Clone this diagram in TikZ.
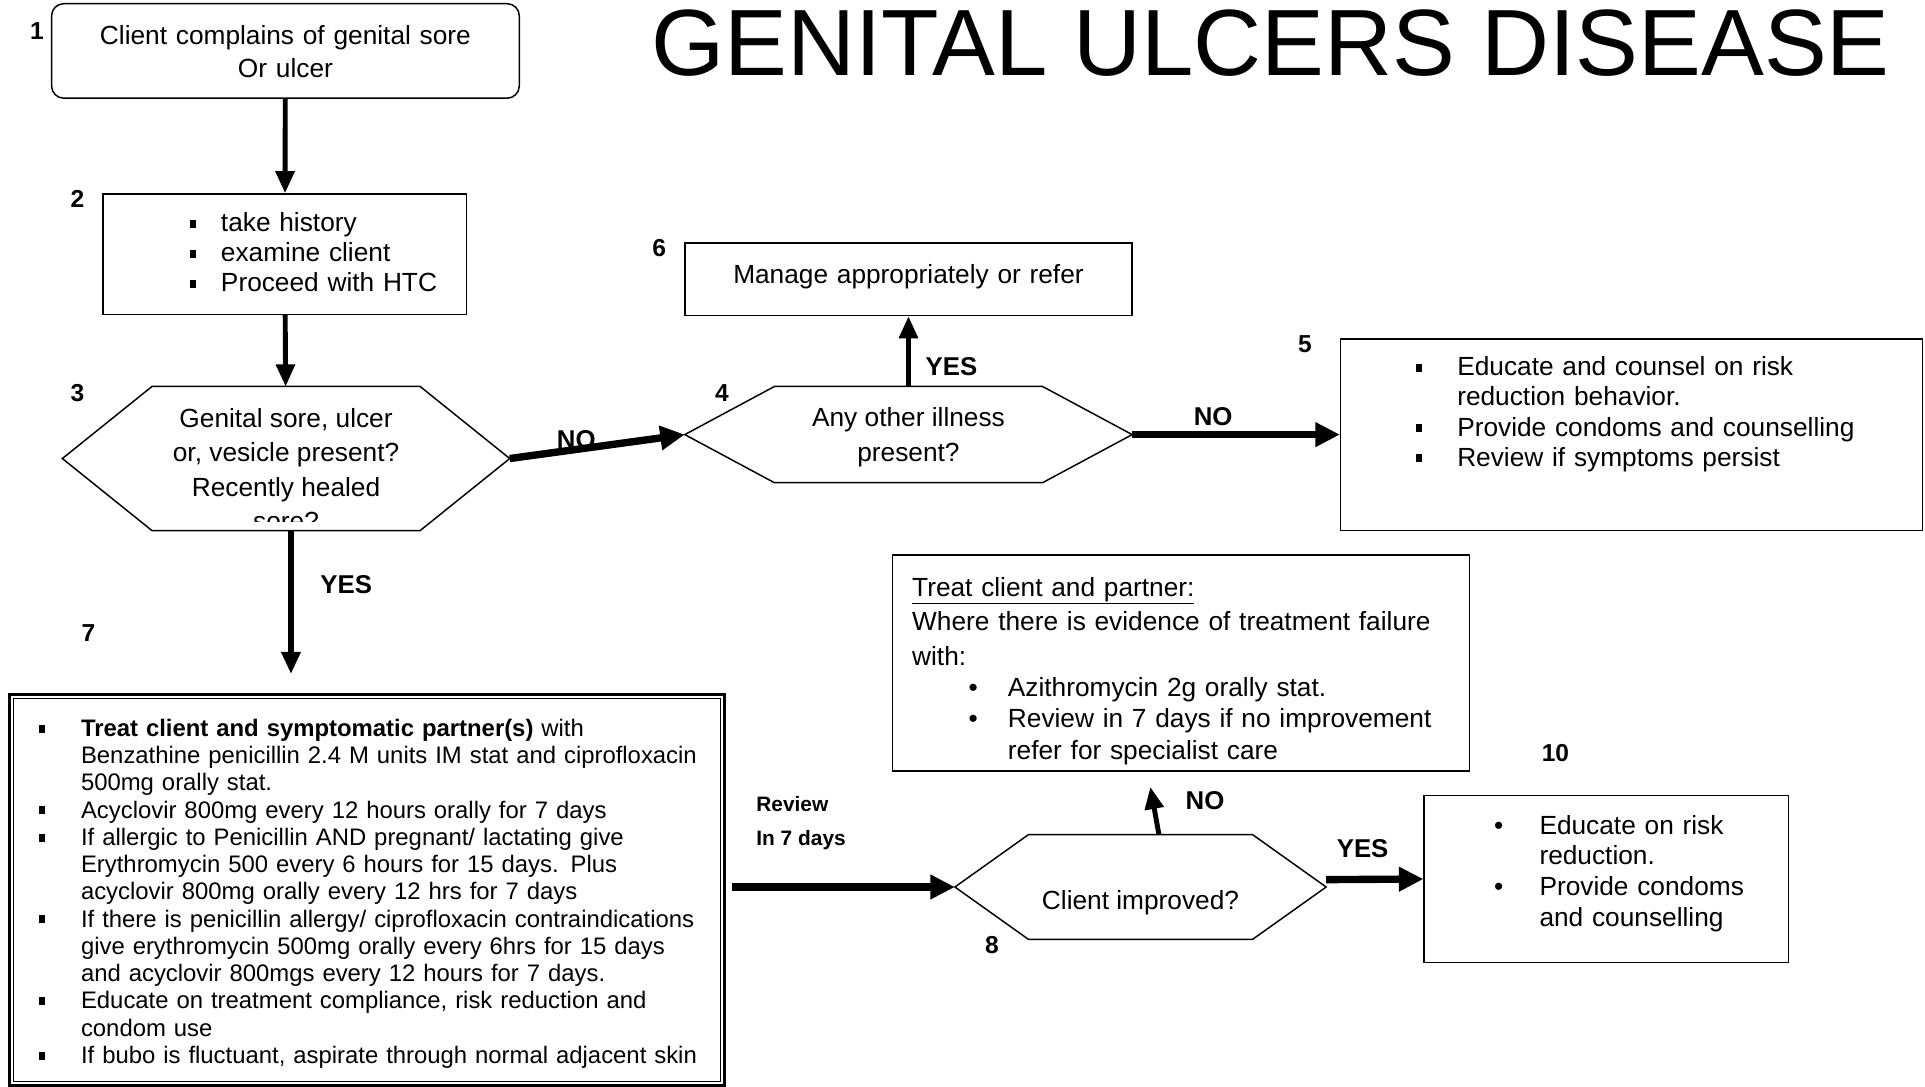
\documentclass[tikz,border=0pt]{standalone}
\usepackage{fontspec}
\setmainfont{Liberation Sans}
\usetikzlibrary{arrows.meta,positioning}

\newcommand{\sqbul}{\rule[3pt]{5pt}{6.5pt}}
\newcommand{\nudge}[2]{\raisebox{#1}[\height][\depth]{#2}}
\newcommand{\hexoutline}[2]{%
  \draw[hexline] (#1.west) -- ([xshift=#2]#1.north west) -- ([xshift=-#2]#1.north east)
    -- (#1.east) -- ([xshift=-#2]#1.south east) -- ([xshift=#2]#1.south west) -- cycle;}

\tikzset{
  box/.style={draw, rectangle, line width=1.2pt, inner sep=0pt, align=left},
  decision/.style={inner sep=0pt, align=center},
  hexline/.style={line width=1.2pt},
  flow/.style={line width=4pt, -{Triangle[length=18pt,width=15pt]}},
  bigflow/.style={line width=6pt, -{Triangle[length=20pt,width=19pt]}},
  numlabel/.style={font=\bfseries\fontsize{20}{24}\selectfont, inner sep=0pt},
  yesno/.style={font=\bfseries\fontsize{21}{24}\selectfont, inner sep=0pt},
}

\begin{document}
\begin{tikzpicture}[x=1pt, y=-1pt, font=\fontsize{21.4}{24.5}\selectfont]
    \useasboundingbox (0,0) rectangle (1568,885);

    \node[inner sep=0pt, font=\fontsize{76.7}{80}\selectfont] (title) at (1035,35) {GENITAL ULCERS DISEASE};

    \node[box, rounded corners=10pt, text width=381pt, minimum height=77pt, align=center, font=\fontsize{21.4}{27}\selectfont] (complaint) at (232.5,41.5) {\nudge{-3pt}{\begin{tabular}{@{}c@{}}Client complains of genital sore\\Or ulcer\end{tabular}}};
    \node[box, text width=296pt, minimum height=98pt] (history) at (232,207)
        {\hspace*{71pt}\nudge{-1pt}{\begin{tabular}{@{}p{25pt}@{}l@{}}\sqbul & take history\\ \sqbul & examine client\\ \sqbul & Proceed with HTC\end{tabular}}};
    \node[box, text width=364pt, minimum height=59pt, align=center] (manage) at (740,227.5) {\nudge{2pt}{Manage appropriately or refer}};
    \node[box, text width=474pt, minimum height=156pt] (counsel) at (1329,354)
        {\hspace*{61pt}\nudge{16pt}{\begin{tabular}{@{}p{34pt}@{}l@{}}\sqbul & Educate and counsel on risk\\ & reduction behavior.\\ \sqbul & Provide condoms and counselling\\ \sqbul & Review if symptoms persist\end{tabular}}};
    \node[box, line width=2.6pt, text width=582pt, minimum height=318pt, font=\fontsize{19.45}{22.2}\selectfont] (treat) at (299,725)
        {\hspace*{24pt}\nudge{-3.5pt}{\begin{tabular}{@{}p{34pt}@{}l@{}}
        \sqbul & \textbf{Treat client and symptomatic partner(s)} with\\
        & Benzathine penicillin 2.4 M units IM stat and ciprofloxacin\\
        & 500mg orally stat.\\
        \sqbul & Acyclovir 800mg every 12 hours orally for 7 days\\
        \sqbul & If allergic to Penicillin AND pregnant/ lactating give\\
        & Erythromycin 500 every 6 hours for 15 days. Plus\\
        & acyclovir 800mg orally every 12 hrs for 7 days\\
        \sqbul & If there is penicillin allergy/ ciprofloxacin contraindications\\
        & give erythromycin 500mg orally every 6hrs for 15 days\\
        & and acyclovir 800mgs every 12 hours for 7 days.\\
        \sqbul & Educate on treatment compliance, risk reduction and\\
        & condom use\\
        \sqbul & If bubo is fluctuant, aspirate through normal adjacent skin
        \end{tabular}}};
    \draw[line width=1pt] ([shift={(4.5,4.5)}]treat.north west) rectangle ([shift={(-4.5,-4.5)}]treat.south east);
    \node[box, text width=470pt, minimum height=176pt, font=\fontsize{21.4}{25.5}\selectfont] (failure) at (962,540)
        {\hspace*{16pt}\nudge{-7pt}{\begin{tabular}{@{}p{46pt}@{}p{32pt}@{}l@{}}
        \multicolumn{3}{@{}l@{}}{\underline{Treat client and partner:}}\\[2.5pt]
        \multicolumn{3}{@{}l@{}}{Where there is evidence of treatment failure}\\[2.5pt]
        \multicolumn{3}{@{}l@{}}{with:}\\
        & \textbullet & Azithromycin 2g orally stat.\\
        & \textbullet & Review in 7 days if no improvement\\
        & & refer for specialist care
        \end{tabular}}};
    \node[box, text width=297pt, minimum height=136pt, font=\fontsize{21.4}{25}\selectfont] (educate) at (1308.5,716)
        {\hspace*{57pt}\nudge{4pt}{\begin{tabular}{@{}p{37pt}@{}l@{}}\textbullet & Educate on risk\\ & reduction.\\ \textbullet & Provide condoms\\ & and counselling\end{tabular}}};

    \begin{scope}
        \clip (40,300) rectangle (430,425);
        \node[decision, minimum width=364pt, minimum height=117pt, font=\fontsize{21.4}{28}\selectfont] (sore) at (233,373.5)
            {\nudge{-11pt}{\begin{tabular}{@{}c@{}}Genital sore, ulcer\\ or, vesicle present?\\ Recently healed\\ sore?\end{tabular}}};
    \end{scope}
    \hexoutline{sore}{73pt}
    \node[decision, minimum width=364pt, minimum height=78pt, font=\fontsize{21.4}{28}\selectfont] (illness) at (740,354) {\nudge{-2pt}{\begin{tabular}{@{}c@{}}Any other illness\\present?\end{tabular}}};
    \hexoutline{illness}{73pt}
    \node[decision, minimum width=302pt, minimum height=85pt] (improved) at (929,722.5) {\nudge{-13pt}{Client improved?}};
    \hexoutline{improved}{60pt}

    \node[numlabel] (n1) at (30,25) {1};
    \node[numlabel] (n2) at (63,162) {2};
    \node[numlabel] (n3) at (63,320) {3};
    \node[numlabel] (n4) at (588,320) {4};
    \node[numlabel] (n5) at (1063,280) {5};
    \node[numlabel] (n6) at (537,202) {6};
    \node[numlabel] (n7) at (72,516) {7};
    \node[numlabel] (n8) at (808,770) {8};
    \node[numlabel] (n10) at (1267,613) {10};

    \coordinate (yesend) at (237,549);
    \coordinate (nohead) at (937,641);

    \draw[flow] (complaint) -- (history);
    \draw[flow] (history) -- (sore);
    \draw[bigflow] (sore.east) -- node[yesno, pos=0.38, yshift=8pt] (no1) {NO} (illness.west);
    \draw[flow] (illness.north) -- node[yesno, pos=0.28, anchor=west, xshift=12pt] (yes1) {YES} (manage.south);
    \draw[bigflow] (illness.east) -- node[yesno, pos=0.39, yshift=15pt] (no2) {NO} (counsel.west);
    \draw[flow, line width=5pt] ([xshift=4pt]sore.south) -- node[yesno, pos=0.376, xshift=45pt] (yes2) {YES} (yesend);
    \draw[bigflow, shorten <=5pt] (treat.east |- improved.west) -- node[pos=0.117, anchor=south west, yshift=27pt, align=left, inner sep=0pt, font=\bfseries\fontsize{17}{28}\selectfont] (review) {Review\\In 7 days} (improved.west);
    \draw[flow] ([xshift=15pt]improved.north) -- node[yesno, pos=0.5, xshift=41pt, yshift=8pt] (no3) {NO} (nohead);
    \draw[bigflow] ([yshift=6pt]improved.east) -- node[yesno, pos=0.375, yshift=25pt] (yes3) {YES} (educate.west);
\end{tikzpicture}
\end{document}
